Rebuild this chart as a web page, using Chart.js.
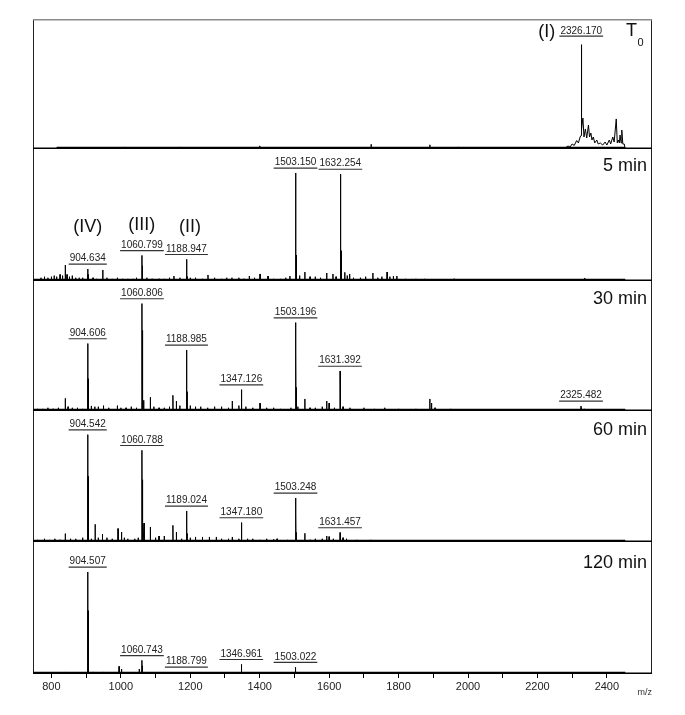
<!DOCTYPE html>
<html>
<head>
<meta charset="utf-8">
<script src="https://cdn.jsdelivr.net/npm/chart.js@4.4.1/dist/chart.umd.min.js"></script>
<style>
html,body{margin:0;padding:0;background:#fff;}
#wrap{position:relative;width:685px;height:715px;overflow:hidden;background:#fff;}
#wrap canvas{position:absolute;left:0;}
</style>
</head>
<body>
<div id="wrap"></div>
<script>
// ================= DATA =================
const panelNames = ['T0', '5 min', '30 min', '60 min', '120 min'];
const xTickLabels = ['800', '1000', '1200', '1400', '1600', '1800', '2000', '2200', '2400'];
const xMinorTicks = [900, 1100, 1300, 1500, 1700, 1900, 2100, 2300];
const xAxisTitle = 'm/z';
const traceStart = [815, 749, 749, 749, 749];
const traceEnd = [2453, 2453, 2453, 2453, 2453];

// ---- T0 ----
const t0Labels = ['2326.170'];
const t0LabelInt = [100];
const t0Mz  = [830, 870, 900, 960, 1011, 1050, 1100, 1170, 1230, 1300, 1400, 1480, 1550, 1620, 1721, 1800, 1890, 1972, 2050, 2100, 2150, 2200, 2240];
const t0Int = [1, 1, 1, 1, 2, 1, 1, 2, 1, 1, 3, 1, 1, 1, 4.5, 1, 4, 2, 1, 1, 1, 1, 1.5];
const t0ClusterMz  = [2255, 2270, 2280, 2288, 2294, 2300, 2306, 2313, 2318, 2323, 2325.5, 2326.9, 2328, 2331, 2334, 2338, 2342, 2347, 2350, 2354, 2357, 2361, 2365, 2371, 2375, 2381, 2388, 2395, 2400, 2407, 2411, 2417, 2421, 2427, 2430, 2433, 2436, 2438, 2441, 2443, 2446, 2450, 2453];
const t0ClusterInt = [0, 1.4, 1, 2.9, 1.9, 4.8, 3.4, 8.1, 5.8, 11.5, 13, 24, 19.2, 29.7, 11.5, 19.2, 10.5, 23, 11.5, 15.3, 8.6, 11.5, 5.8, 8.6, 4.8, 5.8, 3.8, 6.7, 3.8, 8.6, 4.8, 11.5, 6.7, 28.8, 5.8, 8.6, 5.8, 13.4, 5.8, 18.2, 4.8, 4.8, 0];

// ---- 5 min ----
const m5Labels = ['904.634', '1060.799', '1188.947', '1503.150', '1632.254'];
const m5LabelInt = [11.1, 23.7, 20.1, 100, 99];
const m5Mz  = [770, 780, 790, 800, 808, 815, 825, 832, 840, 845, 852, 860, 870, 880, 890, 905.6, 920, 930, 948, 960, 975, 990, 1005, 1020, 1035, 1045, 1061.8, 1062.8, 1075, 1090, 1110, 1125, 1140, 1153, 1170, 1189.95, 1190.95, 1200, 1215, 1235, 1251, 1270, 1290, 1305, 1320, 1340, 1355, 1370, 1385, 1401, 1424, 1440, 1460, 1475, 1487, 1504.15, 1505.15, 1506.15, 1515, 1530, 1545, 1560, 1575, 1593, 1611, 1620, 1633.25, 1634.25, 1635.25, 1645, 1652, 1659, 1670, 1690, 1705, 1726, 1740, 1752, 1767, 1775, 1785, 1795, 1820, 1850, 1875, 1900, 1930, 1960, 2000, 2040, 2100, 2160, 2200, 2336, 2345, 2380];
const m5Int = [3, 4, 3, 4, 5, 4, 6, 5, 14.8, 6, 4, 5, 3, 3, 3, 6, 3, 2, 10.2, 3, 2, 3, 2, 2, 2, 3, 14, 5, 3, 2, 2, 2, 3, 4.6, 3, 12, 4, 3, 3, 2, 5.6, 3, 2, 3, 3, 3, 2, 4.6, 3, 6.5, 4.6, 2, 2, 3, 4.6, 60, 24, 8, 5, 8.3, 4, 4, 3, 7.4, 6.5, 4, 62, 28, 9, 8, 5, 6.5, 3, 3, 4, 7.4, 3, 4, 8.3, 4, 4.6, 4.6, 2, 2, 2, 1.5, 1.5, 2, 1.5, 1, 1, 1, 1, 2.8, 1.5, 1];

// ---- 30 min ----
const m30Labels = ['904.606', '1060.806', '1188.985', '1347.126', '1503.196', '1631.392', '2325.482'];
const m30LabelInt = [62.8, 100, 56.8, 19.9, 82.3, 37.2, 4.7];
const m30Mz  = [760, 775, 790, 805, 820, 840, 848, 860, 875, 890, 905.6, 906.6, 915, 925, 935, 950, 965, 990, 1000, 1015, 1030, 1045, 1061.8, 1062.8, 1063.8, 1066, 1085, 1095, 1110, 1125, 1140, 1150, 1160, 1170, 1189.99, 1190.99, 1200, 1215, 1230, 1250, 1270, 1290, 1310, 1321, 1340, 1348.13, 1360, 1380, 1401, 1420, 1440, 1460, 1490, 1504.2, 1505.2, 1506.2, 1510, 1530, 1545, 1560, 1580, 1593, 1600, 1615, 1632.4, 1633.4, 1640, 1660, 1700, 1730, 1760, 1800, 1850, 1890, 1895, 1905, 1950, 2000, 2050, 2100, 2150, 2200, 2250, 2326.5, 2335, 2350, 2400];
const m30Int = [2, 2, 3, 2, 3, 11.8, 4, 3, 3, 2, 30, 8, 4.7, 4, 4, 5, 3, 5, 3, 3, 4, 3, 75, 30, 10, 10, 12.8, 4, 3, 3, 4, 14.6, 9.3, 5, 45, 18, 5, 4, 4, 3, 4, 4, 3, 9.3, 5, 10, 4, 3, 7.4, 3, 3, 2, 3, 55, 22, 7, 4, 11.2, 3, 3, 4, 9.3, 7.4, 3, 24, 10, 4, 3, 3, 2, 3, 2, 2, 11.2, 7.4, 3, 2, 1.5, 1, 1, 1, 1, 1, 3, 2, 1.5, 1];

// ---- 60 min ----
const m60Labels = ['904.542', '1060.788', '1189.024', '1347.180', '1503.248', '1631.457'];
const m60LabelInt = [100, 85.4, 28.9, 18.1, 41, 8.8];
const m60Mz  = [760, 780, 795, 810, 825, 840, 855, 870, 890, 905.5, 906.5, 907.5, 915, 926, 935, 947, 960, 975, 992, 1002, 1010, 1020, 1040, 1050, 1061.8, 1062.8, 1063.8, 1067, 1085, 1100, 1110, 1125, 1150, 1160, 1175, 1190, 1191, 1200, 1215, 1235, 1255, 1275, 1290, 1310, 1321, 1340, 1348.2, 1365, 1380, 1400, 1420, 1440, 1450, 1480, 1504.2, 1505.2, 1530, 1545, 1560, 1580, 1593, 1600, 1612, 1632.5, 1640, 1650, 1680, 1720, 1760, 1800, 1850, 1900, 1950, 2000, 2050, 2100, 2200, 2300, 2400];
const m60Int = [2, 3, 2, 3, 2, 7.8, 3, 3, 4, 61, 20, 6, 3, 16.5, 4, 7.2, 4, 3, 12.5, 9.3, 4, 3, 3, 4, 58, 22, 7, 17.7, 14, 4, 5.6, 5.6, 15.5, 9.3, 3, 20, 8, 4, 4.7, 4.7, 4.7, 4.7, 3, 3, 4.7, 3, 9, 3, 3, 2, 3, 2.5, 3, 2, 25, 9, 8.1, 2, 3, 3, 5.6, 5, 3, 5, 4, 3, 2, 2, 1.5, 1.5, 1.5, 1.5, 1, 1, 1, 1, 1, 1, 1];

// ---- 120 min ----
const m120Labels = ['904.507', '1060.743', '1188.799', '1346.961', '1503.022'];
const m120LabelInt = [100, 13.4, 2, 9.5, 6.6];
const m120Mz  = [760, 780, 800, 840, 870, 905.5, 906.5, 907.5, 920, 950, 975, 995, 1002, 1020, 1053, 1061.7, 1080, 1100, 1150, 1200, 1250, 1300, 1347.96, 1400, 1450, 1550, 1600, 1700, 1800, 1900, 2000, 2100, 2200, 2300, 2400];
const m120Int = [1, 1.5, 1, 2, 1, 62, 25, 8, 2, 2, 1.5, 7.5, 4.9, 1.5, 4.9, 8, 1.5, 1.5, 1, 1, 1, 1, 4, 1, 1, 1, 1, 1, 1, 1, 1, 1, 1, 1, 1];

// roman-numeral compound annotations (panel index, text, m/z anchor, height level in panel units)
const romanMarks = [
  {panel: 0, text: '(I)',   mz: 2227, level: 112},
  {panel: 1, text: '(II)',  mz: 1199, level: 49.7},
  {panel: 1, text: '(III)', mz: 1060, level: 51.6},
  {panel: 1, text: '(IV)',  mz: 904.5, level: 49.7}
];

// ================= LAYOUT / STYLE =================
const FONT = '"Liberation Sans", Arial, Helvetica, sans-serif';
Chart.defaults.font.family = FONT;
const panelTop = [19, 149, 281, 411, 542];
const panelH   = [130, 132, 130, 131, 132];
const yMax     = [124.6, 122.2, 121, 122, 129.4];
const nameDy   = [12, 17.5, 18.5, 19, 21.5];
const X_MIN = 747, X_MAX = 2530;

const panels = [
  {labels: t0Labels,   labelInt: t0LabelInt,   mz: t0Mz,   int: t0Int,   segMz: t0ClusterMz, segInt: t0ClusterInt},
  {labels: m5Labels,   labelInt: m5LabelInt,   mz: m5Mz,   int: m5Int},
  {labels: m30Labels,  labelInt: m30LabelInt,  mz: m30Mz,  int: m30Int},
  {labels: m60Labels,  labelInt: m60LabelInt,  mz: m60Mz,  int: m60Int},
  {labels: m120Labels, labelInt: m120LabelInt, mz: m120Mz, int: m120Int}
];

function buildTrace(i) {
  const p = panels[i];
  const pts = [];
  const spike = (m, h) => { pts.push({x: m - 0.4, y: 0}, {x: m, y: h}, {x: m + 0.4, y: 0}); };
  p.labels.forEach((s, k) => { if (!p.segMz) spike(parseFloat(s), p.labelInt[k]); });
  p.mz.forEach((m, k) => spike(m, p.int[k]));
  if (p.segMz) {
    p.segMz.forEach((m, k) => pts.push({x: m, y: p.segInt[k]}));
    p.labels.forEach((s, k) => pts.push({x: parseFloat(s), y: p.labelInt[k]}));
  }
  pts.push({x: traceStart[i], y: 0}, {x: traceEnd[i], y: 0});
  pts.sort((a, b) => a.x - b.x);
  return pts;
}

function framePlugin(i) {
  return {
    id: 'frame' + i,
    afterDatasetsDraw(chart) {
      const {ctx, chartArea: a, scales: {x}} = chart;
      ctx.save();
      ctx.strokeStyle = '#222';
      ctx.lineWidth = 1;
      ctx.beginPath();
      ctx.moveTo(a.left + 0.5, a.top); ctx.lineTo(a.left + 0.5, a.bottom);
      ctx.moveTo(a.right - 0.5, a.top); ctx.lineTo(a.right - 0.5, a.bottom);
      ctx.stroke();
      // axis line
      ctx.strokeStyle = '#000';
      ctx.lineWidth = 1.4;
      ctx.beginPath();
      ctx.moveTo(a.left, a.bottom - 0.7); ctx.lineTo(a.right, a.bottom - 0.7);
      ctx.stroke();
      // thicker where the recorded trace lies on the baseline
      ctx.lineWidth = 2.2;
      ctx.beginPath();
      ctx.moveTo(x.getPixelForValue(traceStart[i]), a.bottom - 1.1);
      ctx.lineTo(x.getPixelForValue(traceEnd[i]), a.bottom - 1.1);
      ctx.stroke();
      if (i === 0) {
        ctx.strokeStyle = '#8a8a8a';
        ctx.lineWidth = 1.5;
        ctx.beginPath();
        ctx.moveTo(a.left, a.top + 0.75); ctx.lineTo(a.right, a.top + 0.75);
        ctx.stroke();
      }
      ctx.restore();
    }
  };
}

function annotPlugin(i) {
  return {
    id: 'annot' + i,
    afterDraw(chart) {
      const {ctx, chartArea: a, scales: {x, y}} = chart;
      const p = panels[i];
      ctx.save();
      // peak m/z labels with underline
      ctx.font = '10px ' + FONT;
      ctx.textAlign = 'center';
      ctx.textBaseline = 'middle';
      p.labels.forEach((s, k) => {
        const px = x.getPixelForValue(parseFloat(s));
        const py = y.getPixelForValue(p.labelInt[k]);
        const w = ctx.measureText(s).width;
        const ty = py - (i === 0 ? 13 : 10.5);
        const uy = py - (i === 0 ? 8.5 : 4.8);
        ctx.fillStyle = '#222';
        ctx.fillText(s, px, ty);
        ctx.strokeStyle = '#333';
        ctx.lineWidth = 1.2;
        ctx.beginPath();
        ctx.moveTo(px - w / 2 - 1, uy); ctx.lineTo(px + w / 2 + 1, uy);
        ctx.stroke();
      });
      // roman numerals
      ctx.font = '18px ' + FONT;
      ctx.fillStyle = '#111';
      romanMarks.filter(r => r.panel === i).forEach(r => {
        ctx.fillText(r.text, x.getPixelForValue(r.mz), y.getPixelForValue(r.level));
      });
      // panel name
      ctx.textAlign = 'right';
      const name = panelNames[i];
      if (name === 'T0') {
        ctx.font = '11px ' + FONT;
        const zx = a.right - 8.5;
        ctx.fillText('0', zx, a.top + 23.5);
        const zw = ctx.measureText('0').width;
        ctx.font = '18px ' + FONT;
        ctx.fillText('T', zx - zw - 0.5, a.top + nameDy[i]);
      } else {
        ctx.font = '18px ' + FONT;
        ctx.fillText(name, a.right - 5, a.top + nameDy[i]);
      }
      ctx.restore();
    }
  };
}

const tickValues = xTickLabels.map(Number).concat(xMinorTicks).sort((a, b) => a - b);
const wrap = document.getElementById('wrap');

for (let i = 0; i < 5; i++) {
  const isLast = i === 4;
  const ch = panelH[i] + (isLast ? 30 : 0);
  const cv = document.createElement('canvas');
  cv.width = 685; cv.height = ch;
  cv.style.top = panelTop[i] + 'px';
  cv.style.width = '685px'; cv.style.height = ch + 'px';
  wrap.appendChild(cv);

  const xScale = {
    type: 'linear', min: X_MIN, max: X_MAX, display: isLast
  };
  if (isLast) {
    Object.assign(xScale, {
      afterBuildTicks: s => { s.ticks = tickValues.map(v => ({value: v})); },
      afterFit: s => { s.height = 30; },
      grid: {drawOnChartArea: false, drawTicks: true, tickLength: 4, color: '#000', lineWidth: 1},
      border: {display: false},
      ticks: {
        autoSkip: false, maxRotation: 0, minRotation: 0, padding: 2, color: '#222',
        font: {family: FONT, size: 11},
        callback: v => xTickLabels.includes(String(v)) ? String(v) : ''
      },
      title: {display: true, text: xAxisTitle, align: 'end', color: '#333',
              font: {family: FONT, size: 9}, padding: {top: 0, bottom: 5.6}}
    });
  }

  new Chart(cv, {
    type: 'line',
    data: {
      datasets: [{
        data: buildTrace(i),
        borderColor: '#000',
        borderWidth: 1,
        pointRadius: 0,
        tension: 0,
        fill: false
      }]
    },
    options: {
      responsive: false,
      animation: false,
      devicePixelRatio: 1,
      events: [],
      layout: {padding: {left: 33, right: 33, top: 0, bottom: 0}},
      plugins: {legend: {display: false}, tooltip: {enabled: false}, title: {display: false}},
      scales: {
        x: xScale,
        y: {type: 'linear', min: 0, max: yMax[i], display: false}
      }
    },
    plugins: [framePlugin(i), annotPlugin(i)]
  });
}
</script>
</body>
</html>
